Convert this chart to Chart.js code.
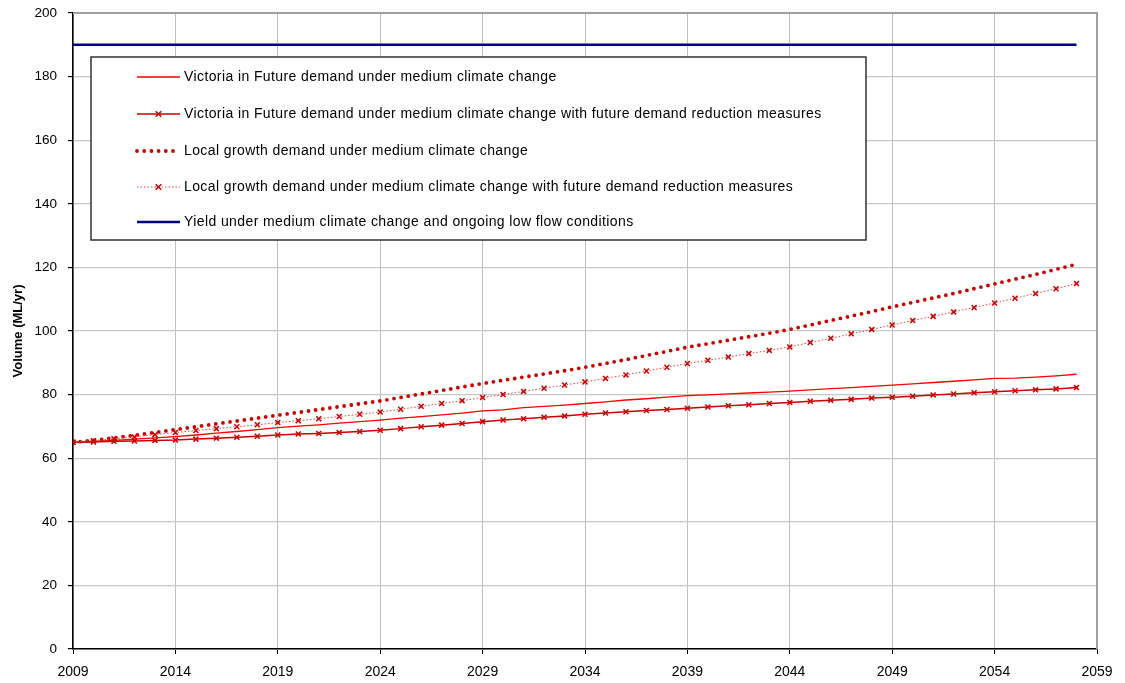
<!DOCTYPE html>
<html>
<head>
<meta charset="utf-8">
<script src="https://cdn.jsdelivr.net/npm/chart.js@4.4.0/dist/chart.umd.min.js"></script>
<style>
html,body{margin:0;padding:0;background:#fff;}
#wrap{width:1125px;height:683px;position:relative;}
</style>
</head>
<body>
<div id="wrap"><canvas id="c" width="1125" height="683"></canvas></div>
<script>
const years = [2009,2010,2011,2012,2013,2014,2015,2016,2017,2018,2019,2020,2021,2022,2023,2024,2025,2026,2027,2028,2029,2030,2031,2032,2033,2034,2035,2036,2037,2038,2039,2040,2041,2042,2043,2044,2045,2046,2047,2048,2049,2050,2051,2052,2053,2054,2055,2056,2057,2058];

const vifMedium = [65.0,65.3,65.6,66.0,66.4,66.8,67.3,67.9,68.4,69.0,69.6,70.1,70.5,71.0,71.5,72.0,72.6,73.1,73.6,74.2,74.9,75.2,75.9,76.3,76.7,77.2,77.7,78.3,78.7,79.2,79.7,79.9,80.2,80.5,80.8,81.1,81.5,81.9,82.2,82.6,83.0,83.4,83.8,84.2,84.6,85.1,85.2,85.5,85.9,86.4];

const vifMediumReduction = [65.0,65.1,65.3,65.4,65.6,65.7,66.0,66.3,66.6,66.9,67.3,67.6,67.8,68.1,68.4,68.8,69.3,69.9,70.4,70.9,71.5,72.0,72.4,72.9,73.3,73.8,74.2,74.6,75.0,75.3,75.7,76.1,76.5,76.8,77.2,77.5,77.9,78.2,78.5,78.9,79.2,79.5,79.9,80.2,80.6,80.9,81.2,81.5,81.8,82.2];

const localMedium = [65.0,65.6,66.4,67.2,68.1,69.0,69.9,70.8,71.7,72.6,73.5,74.4,75.3,76.2,77.1,78.0,79.1,80.2,81.3,82.4,83.5,84.5,85.5,86.5,87.5,88.6,89.8,91.0,92.3,93.6,94.9,96.0,97.1,98.2,99.3,100.5,101.9,103.3,104.7,106.1,107.6,109.0,110.4,111.8,113.3,114.8,116.3,117.8,119.4,121.0];

const localMediumReduction = [65.0,65.5,66.1,66.7,67.4,68.1,68.7,69.3,69.9,70.5,71.2,71.8,72.4,73.1,73.8,74.5,75.4,76.3,77.2,78.1,79.1,80.0,81.0,82.0,83.0,84.0,85.1,86.2,87.4,88.6,89.8,90.8,91.8,92.9,93.9,95.0,96.4,97.7,99.1,100.5,101.9,103.3,104.6,106.0,107.4,108.8,110.3,111.8,113.3,114.9];

const yieldMedium = [190,190,190,190,190,190,190,190,190,190,190,190,190,190,190,190,190,190,190,190,190,190,190,190,190,190,190,190,190,190,190,190,190,190,190,190,190,190,190,190,190,190,190,190,190,190,190,190,190,190];

const seriesLabels = [
  "Victoria in Future demand under medium climate change",
  "Victoria in Future demand under medium climate change with future demand reduction measures",
  "Local growth demand under medium climate change",
  "Local growth demand under medium climate change with future demand reduction measures",
  "Yield under medium climate change and ongoing low flow conditions"
];

const xTicks = [2009,2014,2019,2024,2029,2034,2039,2044,2049,2054,2059];
const yTicks = [0,20,40,60,80,100,120,140,160,180,200];
const yTitle = "Volume (ML/yr)";

function pts(vals){ return years.map((y,i)=>({x:y,y:vals[i]})); }

const FONT = "'Liberation Sans', Arial, sans-serif";

const datasets = [
  {label: seriesLabels[0], data: pts(vifMedium), borderColor:'#ff0000', borderWidth:1.3, pointRadius:0, order:4},
  {label: seriesLabels[1], data: pts(vifMediumReduction), borderColor:'#cc0000', borderWidth:1.5,
    pointStyle:'crossRot', pointRadius:3.5, pointBorderColor:'#cc0000', pointBorderWidth:1.5, order:3},
  {label: seriesLabels[2], data: pts(localMedium), borderColor:'#cc0000', borderWidth:3.8,
    borderDash:[0,7.2], borderCapStyle:'round', pointRadius:0, order:2},
  {label: seriesLabels[3], data: pts(localMediumReduction), borderColor:'#e04040', borderWidth:1,
    borderDash:[1.5,2], pointStyle:'crossRot', pointRadius:3.5, pointBorderColor:'#cc0000', pointBorderWidth:1.5, order:1},
  {label: seriesLabels[4], data: pts(yieldMedium), borderColor:'#000080', borderWidth:2.5, pointRadius:0, order:0}
];

const framePlugin = {
  id:'frame',
  beforeDatasetsDraw(chart){
    const {ctx, chartArea:a} = chart;
    ctx.save();
    ctx.strokeStyle = '#a0a0a0';
    ctx.lineWidth = 2;
    ctx.beginPath();
    ctx.moveTo(a.left, a.top);
    ctx.lineTo(a.right, a.top);
    ctx.lineTo(a.right, a.bottom);
    ctx.stroke();
    ctx.restore();
  }
};

const legendPlugin = {
  id:'boxLegend',
  afterDatasetsDraw(chart){
    const ctx = chart.ctx;
    const bx = 91, by = 57, bw = 775, bh = 183;
    ctx.save();
    ctx.fillStyle = '#fff';
    ctx.fillRect(bx, by, bw, bh);
    ctx.strokeStyle = '#333';
    ctx.lineWidth = 1.5;
    ctx.strokeRect(bx, by, bw, bh);
    const rows = [77, 114, 151, 187, 222];
    ctx.font = '14px ' + FONT;
    try { ctx.letterSpacing = '0.4px'; } catch(e) {}
    ctx.textBaseline = 'middle';
    chart.data.datasets.forEach((ds, i) => {
      const y = rows[i];
      const x0 = 137, x1 = 180;
      ctx.save();
      ctx.strokeStyle = ds.borderColor;
      ctx.lineWidth = ds.borderWidth;
      ctx.setLineDash(ds.borderDash || []);
      ctx.lineCap = ds.borderCapStyle || 'butt';
      ctx.beginPath();
      ctx.moveTo(x0, y); ctx.lineTo(x1, y);
      ctx.stroke();
      ctx.restore();
      if (ds.pointStyle === 'crossRot') {
        ctx.save();
        ctx.strokeStyle = ds.pointBorderColor;
        ctx.lineWidth = 1.5;
        const cx = 158.5, r = 2.8;
        ctx.beginPath();
        ctx.moveTo(cx - r, y - r); ctx.lineTo(cx + r, y + r);
        ctx.moveTo(cx - r, y + r); ctx.lineTo(cx + r, y - r);
        ctx.stroke();
        ctx.restore();
      }
      ctx.fillStyle = '#000';
      ctx.fillText(ds.label, 184, y + 0.5);
    });
    ctx.restore();
  }
};

new Chart(document.getElementById('c'), {
  type:'line',
  data:{datasets},
  options:{
    responsive:false,
    animation:false,
    devicePixelRatio:1,
    layout:{padding:{top:13, right:28, left:0, bottom:0}},
    plugins:{legend:{display:false}, tooltip:{enabled:false}},
    elements:{line:{tension:0}},
    scales:{
      x:{
        type:'linear', min:2009, max:2059,
        afterBuildTicks(s){ s.ticks = xTicks.map(v=>({value:v})); },
        afterFit(s){ s.height = 34; s.paddingLeft = 0; s.paddingRight = 0; s.paddingTop = 0; s.paddingBottom = 0; },
        grid:{color:'#c0c0c0', lineWidth:1, tickLength:5, tickColor:'#000', drawOnChartArea:true},
        border:{color:'#000', width:1.5},
        ticks:{color:'#000', font:{family:FONT, size:14}, padding:10, maxRotation:0, autoSkip:false,
          callback:(v)=>String(v)}
      },
      y:{
        type:'linear', min:0, max:200,
        afterBuildTicks(s){ s.ticks = yTicks.map(v=>({value:v})); },
        afterFit(s){ s.width = 73; s.paddingTop = 0; s.paddingBottom = 0; s.paddingLeft = 0; s.paddingRight = 0; },
        grid:{color:'#c8c8c8', lineWidth:1.2, tickLength:5, tickColor:'#000'},
        border:{color:'#000', width:1.5},
        title:{display:true, text:yTitle, color:'#000', font:{family:FONT, size:13, weight:'bold'}, padding:{top:11,bottom:0}},
        ticks:{color:'#000', font:{family:FONT, size:13.5}, padding:11, autoSkip:false}
      }
    }
  },
  plugins:[framePlugin, legendPlugin]
});
</script>
</body>
</html>
